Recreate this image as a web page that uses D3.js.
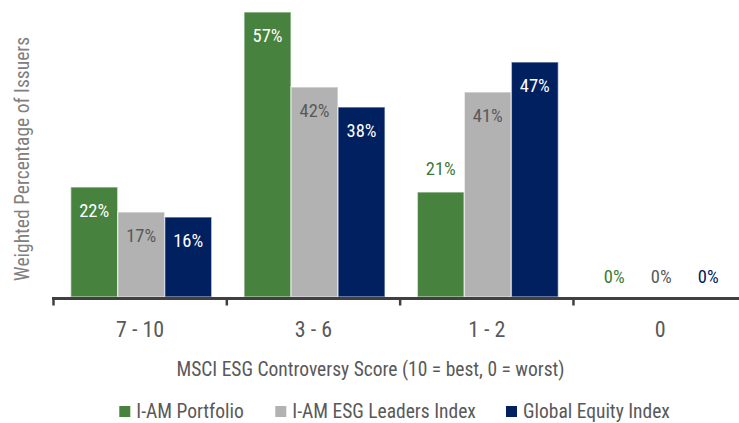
<!DOCTYPE html>
<html>
<head>
<meta charset="utf-8">
<script src="https://cdn.jsdelivr.net/npm/d3@7"></script>
<style>
  html, body { margin: 0; padding: 0; background: #fff; }
  svg { display: block; }
  text { font-family: "Roboto Condensed", "Roboto", sans-serif; font-stretch: condensed; }
</style>
</head>
<body>
<svg id="chart" width="739" height="423"></svg>
<script>
const categories = ["7 - 10", "3 - 6", "1 - 2", "0"];
const seriesNames = ["I-AM Portfolio", "I-AM ESG Leaders Index", "Global Equity Index"];
const portfolio = [22, 57, 21, 0];
const leaders = [17, 42, 41, 0];
const globalEq = [16, 38, 47, 0];
const xTitle = "MSCI ESG Controversy Score (10 = best, 0 = worst)";
const yTitle = "Weighted Percentage of Issuers";

const seriesValues = [portfolio, leaders, globalEq];
const fills = ["#47823f", "#b2b2b2", "#002060"];
const insideLabelColors = ["#ffffff", "#595959", "#ffffff"];
const outsideLabelColors = ["#3d7a36", "#595959", "#002060"];

const svg = d3.select("#chart");
const baseY = 297;

const x0 = d3.scaleBand().domain(categories).range([53.5, 746.8]).paddingInner(0).paddingOuter(0);
const x1 = d3.scaleBand().domain(seriesNames).range([17.2, 17.2 + 141]).paddingInner(0);
const y = d3.scaleLinear().domain([0, 60]).range([baseY, -3]);

const data = [];
categories.forEach((c, ci) => {
  seriesNames.forEach((s, si) => {
    data.push({ cat: c, ci, series: s, si, value: seriesValues[si][ci] });
  });
});

// bars
svg.append("g").selectAll("rect")
  .data(data.filter(d => d.value > 0))
  .join("rect")
  .attr("x", d => x0(d.cat) + x1(d.series))
  .attr("y", d => y(d.value))
  .attr("width", x1.bandwidth())
  .attr("height", d => baseY - y(d.value))
  .attr("fill", d => fills[d.si])
  .attr("stroke", "#ffffff")
  .attr("stroke-opacity", 0.55)
  .attr("stroke-width", 1.4);

// labels: inside the bar top, except where the reference puts them above (21% and zeros)
const outsideKeys = new Set(["1 - 2|I-AM Portfolio"]);
svg.append("g").selectAll("text")
  .data(data)
  .join("text")
  .attr("x", d => x0(d.cat) + x1(d.series) + x1.bandwidth() / 2)
  .attr("y", d => {
    if (d.value === 0) return baseY - 14;
    if (outsideKeys.has(d.cat + "|" + d.series)) return y(d.value) - 17;
    return y(d.value) + 30;
  })
  .attr("text-anchor", "middle")
  .attr("font-size", 18.5)
  .attr("fill", d => (d.value === 0 || outsideKeys.has(d.cat + "|" + d.series)) ? outsideLabelColors[d.si] : insideLabelColors[d.si])
  .text(d => d.value + "%");

// x axis
const xAxis = d3.axisBottom(x0).tickSize(0).tickPadding(0);
const gx = svg.append("g").attr("transform", `translate(0,${baseY + 1.5})`).call(xAxis);
gx.select(".domain").remove();
gx.selectAll("text").remove();
gx.append("line")
  .attr("x1", 52).attr("x2", 760)
  .attr("stroke", "#404040").attr("stroke-width", 3);
gx.selectAll("line.bound")
  .data(categories)
  .join("line")
  .attr("class", "bound")
  .attr("x1", d => x0(d)).attr("x2", d => x0(d))
  .attr("y1", 0).attr("y2", 7)
  .attr("stroke", "#404040").attr("stroke-width", 2.5);
gx.selectAll("text.cat")
  .data(categories)
  .join("text")
  .attr("class", "cat")
  .attr("x", d => x0(d) + x0.bandwidth() / 2)
  .attr("y", 336.7 - baseY - 1.5)
  .attr("text-anchor", "middle")
  .attr("font-size", 22)
  .attr("fill", "#595959")
  .text(d => d);

// axis titles
svg.append("text")
  .attr("x", 370.5).attr("y", 376)
  .attr("text-anchor", "middle")
  .attr("font-size", 19.5)
  .attr("fill", "#595959")
  .text(xTitle);

svg.append("text")
  .attr("transform", "translate(29,159) rotate(-90)")
  .attr("text-anchor", "middle")
  .attr("font-size", 19.5)
  .attr("fill", "#808080")
  .text(yTitle);

// legend
const legendX = [119.3, 275.3, 506];
const lg = svg.append("g").selectAll("g")
  .data(seriesNames)
  .join("g")
  .attr("transform", (d, i) => `translate(${legendX[i]},0)`);
lg.append("rect")
  .attr("x", 0).attr("y", 406).attr("width", 11).attr("height", 11)
  .attr("fill", (d, i) => fills[i]);
lg.append("text")
  .attr("x", 17).attr("y", 417.5)
  .attr("font-size", 19.5)
  .attr("fill", "#595959")
  .text(d => d);
</script>
</body>
</html>
